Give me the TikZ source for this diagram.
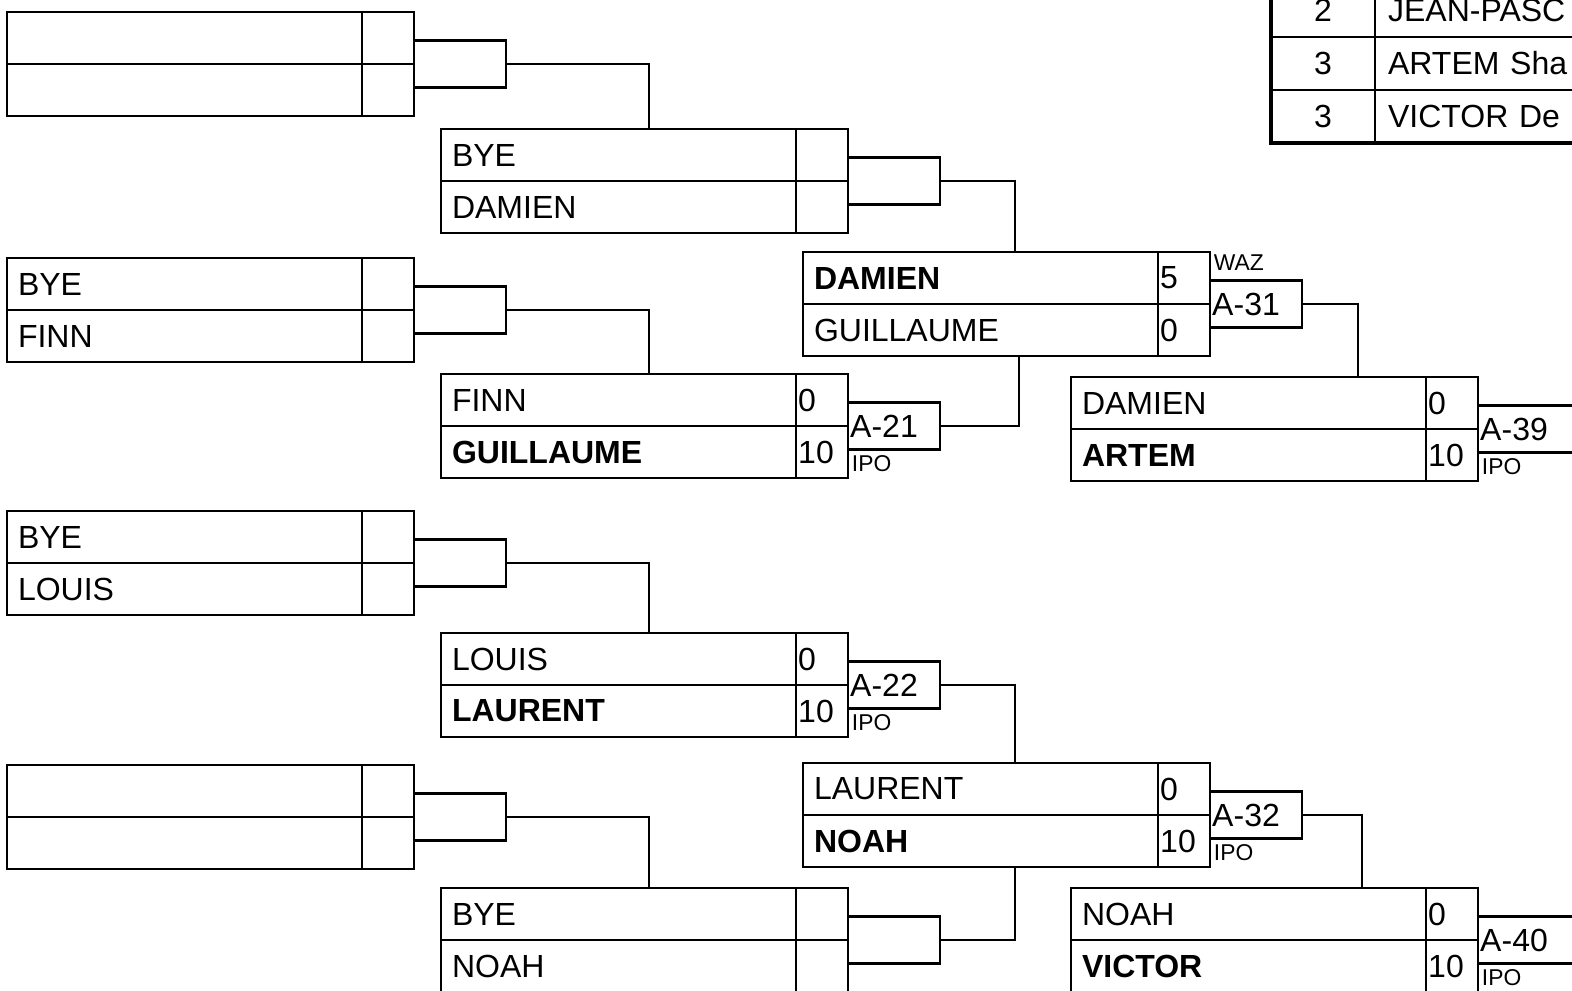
\documentclass[tikz,border=0pt]{standalone}
\usepackage{fontspec}
\setmainfont{Liberation Sans}
\usetikzlibrary{positioning}

\tikzset{
	cellfont/.style={font=\fontsize{9.1}{11}\selectfont},
	namecell/.style={rectangle, draw, line width=0.6pt, outer sep=0pt, inner xsep=0.11cm, inner ysep=0pt, minimum width=3.55cm, minimum height=0.52cm, text width=3.33cm, align=left, cellfont},
	scorecell/.style={rectangle, draw, line width=0.6pt, outer sep=0pt, inner xsep=0.02cm, inner ysep=0pt, minimum width=0.52cm, minimum height=0.52cm, text width=0.48cm, align=left, cellfont},
	matchbox/.style={rectangle, draw, line width=0.6pt, outer sep=0pt, inner xsep=0.02cm, inner ysep=0pt, minimum width=0.92cm, minimum height=0.47cm, text width=0.88cm, align=left, cellfont},
	note/.style={inner xsep=0.03cm, inner ysep=0.05cm, font=\fontsize{6.5}{7.5}\selectfont},
	link/.style={line width=0.5pt},
	tablenum/.style={rectangle, draw, line width=0.6pt, outer sep=0pt, minimum width=1.04cm, minimum height=0.53cm, cellfont},
	tablename/.style={rectangle, draw, line width=0.6pt, outer sep=0pt, inner xsep=0.13cm, minimum width=3.3cm, minimum height=0.53cm, text width=3.04cm, align=left, cellfont}
}

\begin{document}
\begin{tikzpicture}[x=0.01cm, y=-0.01cm]
	
	\path[use as bounding box, clip] (0,0) rectangle (1572,991);
	
	%Round 1
	\node (r1m1t) at (7,12) [namecell, anchor=north west]{};
	\node (r1m1b) [namecell, below=0cm of r1m1t]{};
	\node (r1m1ts) [scorecell, right=0cm of r1m1t]{};
	\node (r1m1bs) [scorecell, right=0cm of r1m1b]{};
	\node (r1m1x) at (r1m1ts.south east) [matchbox, anchor=west]{};
	
	\node (r1m2t) at (7,258) [namecell, anchor=north west]{BYE};
	\node (r1m2b) [namecell, below=0cm of r1m2t]{FINN};
	\node (r1m2ts) [scorecell, right=0cm of r1m2t]{};
	\node (r1m2bs) [scorecell, right=0cm of r1m2b]{};
	\node (r1m2x) at (r1m2ts.south east) [matchbox, anchor=west]{};
	
	\node (r1m3t) at (7,511) [namecell, anchor=north west]{BYE};
	\node (r1m3b) [namecell, below=0cm of r1m3t]{LOUIS};
	\node (r1m3ts) [scorecell, right=0cm of r1m3t]{};
	\node (r1m3bs) [scorecell, right=0cm of r1m3b]{};
	\node (r1m3x) at (r1m3ts.south east) [matchbox, anchor=west]{};
	
	\node (r1m4t) at (7,765) [namecell, anchor=north west]{};
	\node (r1m4b) [namecell, below=0cm of r1m4t]{};
	\node (r1m4ts) [scorecell, right=0cm of r1m4t]{};
	\node (r1m4bs) [scorecell, right=0cm of r1m4b]{};
	\node (r1m4x) at (r1m4ts.south east) [matchbox, anchor=west]{};
	
	%Round 2
	\node (r2m1t) at (441,129) [namecell, anchor=north west]{BYE};
	\node (r2m1b) [namecell, below=0cm of r2m1t]{DAMIEN};
	\node (r2m1ts) [scorecell, right=0cm of r2m1t]{};
	\node (r2m1bs) [scorecell, right=0cm of r2m1b]{};
	\node (r2m1x) at (r2m1ts.south east) [matchbox, anchor=west]{};
	
	\node (r2m2t) at (441,374) [namecell, anchor=north west]{FINN};
	\node (r2m2b) [namecell, below=0cm of r2m2t]{\textbf{GUILLAUME}};
	\node (r2m2ts) [scorecell, right=0cm of r2m2t]{0};
	\node (r2m2bs) [scorecell, right=0cm of r2m2b]{10};
	\node (r2m2x) at (r2m2ts.south east) [matchbox, anchor=west]{A-21};
	\node (r2m2n) at (r2m2x.south west) [note, anchor=north west]{IPO};
	
	\node (r2m3t) at (441,633) [namecell, anchor=north west]{LOUIS};
	\node (r2m3b) [namecell, below=0cm of r2m3t]{\textbf{LAURENT}};
	\node (r2m3ts) [scorecell, right=0cm of r2m3t]{0};
	\node (r2m3bs) [scorecell, right=0cm of r2m3b]{10};
	\node (r2m3x) at (r2m3ts.south east) [matchbox, anchor=west]{A-22};
	\node (r2m3n) at (r2m3x.south west) [note, anchor=north west]{IPO};
	
	\node (r2m4t) at (441,888) [namecell, anchor=north west]{BYE};
	\node (r2m4b) [namecell, below=0cm of r2m4t]{NOAH};
	\node (r2m4ts) [scorecell, right=0cm of r2m4t]{};
	\node (r2m4bs) [scorecell, right=0cm of r2m4b]{};
	\node (r2m4x) at (r2m4ts.south east) [matchbox, anchor=west]{};
	
	%Round 3
	\node (r3m1t) at (803,252) [namecell, anchor=north west]{\textbf{DAMIEN}};
	\node (r3m1b) [namecell, below=0cm of r3m1t]{GUILLAUME};
	\node (r3m1ts) [scorecell, right=0cm of r3m1t]{5};
	\node (r3m1bs) [scorecell, right=0cm of r3m1b]{0};
	\node (r3m1x) at (r3m1ts.south east) [matchbox, anchor=west]{A-31};
	\node (r3m1n) at (r3m1ts.north east) [note, anchor=north west, inner ysep=0.02cm]{WAZ};
	
	\node (r3m2t) at (803,763) [namecell, anchor=north west]{LAURENT};
	\node (r3m2b) [namecell, below=0cm of r3m2t]{\textbf{NOAH}};
	\node (r3m2ts) [scorecell, right=0cm of r3m2t]{0};
	\node (r3m2bs) [scorecell, right=0cm of r3m2b]{10};
	\node (r3m2x) at (r3m2ts.south east) [matchbox, anchor=west]{A-32};
	\node (r3m2n) at (r3m2x.south west) [note, anchor=north west]{IPO};
	
	%Round 4
	\node (r4m1t) at (1071,377) [namecell, anchor=north west]{DAMIEN};
	\node (r4m1b) [namecell, below=0cm of r4m1t]{\textbf{ARTEM}};
	\node (r4m1ts) [scorecell, right=0cm of r4m1t]{0};
	\node (r4m1bs) [scorecell, right=0cm of r4m1b]{10};
	\node (r4m1x) at (r4m1ts.south east) [matchbox, anchor=west, minimum width=1.2cm, text width=1.16cm]{A-39};
	\node (r4m1n) at (r4m1x.south west) [note, anchor=north west]{IPO};
	
	\node (r4m2t) at (1071,888) [namecell, anchor=north west]{NOAH};
	\node (r4m2b) [namecell, below=0cm of r4m2t]{\textbf{VICTOR}};
	\node (r4m2ts) [scorecell, right=0cm of r4m2t]{0};
	\node (r4m2bs) [scorecell, right=0cm of r4m2b]{10};
	\node (r4m2x) at (r4m2ts.south east) [matchbox, anchor=west, minimum width=1.2cm, text width=1.16cm]{A-40};
	\node (r4m2n) at (r4m2x.south west) [note, anchor=north west]{IPO};
	
	%Links
	\draw[link] (r1m1x.east) -| ([xshift=2.08cm]r2m1t.north west);
	\draw[link] (r1m2x.east) -| ([xshift=2.08cm]r2m2t.north west);
	\draw[link] (r1m3x.east) -| ([xshift=2.08cm]r2m3t.north west);
	\draw[link] (r1m4x.east) -| ([xshift=2.08cm]r2m4t.north west);
	
	\draw[link] (r2m1x.east) -| ([xshift=2.12cm]r3m1t.north west);
	\draw[link] (r2m2x.east) -| ([xshift=2.16cm]r3m1b.south west);
	\draw[link] (r2m3x.east) -| ([xshift=2.12cm]r3m2t.north west);
	\draw[link] (r2m4x.east) -| ([xshift=2.12cm]r3m2b.south west);
	
	\draw[link] (r3m1x.east) -| ([xshift=2.87cm]r4m1t.north west);
	\draw[link] (r3m2x.east) -| ([xshift=2.91cm]r4m2t.north west);
	
	%Ranking table
	\node (t1n) at (1271,-16) [tablenum, anchor=north west]{2};
	\node (t1p) [tablename, right=0cm of t1n]{JEAN-PASC};
	\node (t2n) [tablenum, below=0cm of t1n]{3};
	\node (t2p) [tablename, right=0cm of t2n]{ARTEM Sha};
	\node (t3n) [tablenum, below=0cm of t2n]{3};
	\node (t3p) [tablename, right=0cm of t3n]{VICTOR De};
	\draw[line width=1.2pt] (t1n.north west) -- (t3n.south west) -- (t3p.south east);
	
\end{tikzpicture}
\end{document}
